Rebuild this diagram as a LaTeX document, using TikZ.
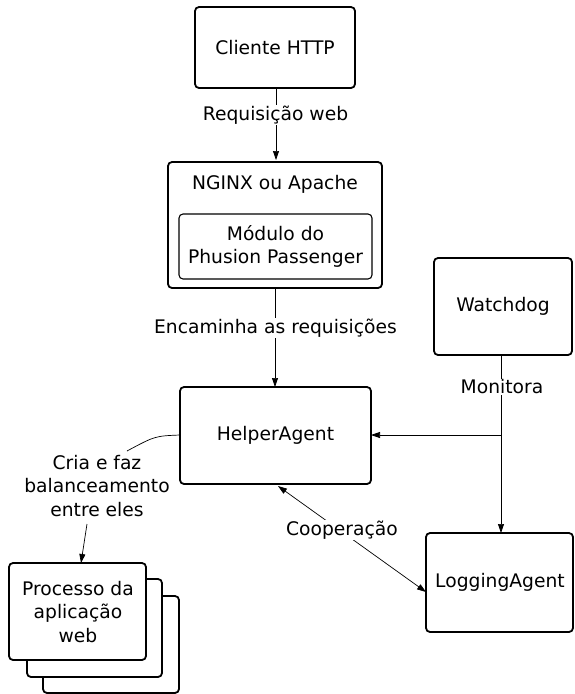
\documentclass[tikz,border=0pt]{standalone}
\usepackage{fontspec}
\setmainfont{DejaVu Sans}
\usetikzlibrary{arrows.meta}
\begin{document}
\begin{tikzpicture}[x=1pt,y=-1pt,
  font=\fontsize{18.7}{23.5}\selectfont,
  box/.style={draw,line width=1.8pt,rounded corners=4pt,fill=white},
  inbox/.style={draw,line width=1.1pt,rounded corners=4pt},
  conn/.style={line width=0.7pt,-{Triangle[length=9pt,width=6pt]}},
  lbl/.style={fill=white,inner sep=1pt,align=center}]
\useasboundingbox (0,0) rectangle (575,694);
% boxes
\draw[box] (195,7) rectangle (355,88);
\node (cli) at (275,47.5) {Cliente HTTP};
\coordinate (cliS) at (276,88);
\draw[box] (168,162) rectangle (382,288);
\node (ngx) at (275,184) {NGINX ou Apache};
\draw[inbox] (179,214) rectangle (372,279);
\node[align=center] (mod) at (275.5,246.5) {Módulo do\\Phusion Passenger};
\coordinate (ngxN) at (276,162);
\coordinate (ngxS) at (275,288);
\draw[box] (180,387) rectangle (371,484);
\node (help) at (275.5,435.5) {HelperAgent};
\coordinate (helpN) at (275,387);
\coordinate (helpE) at (371,435);
\coordinate (helpW) at (180,435);
\coordinate (helpSE) at (278,486);
\draw[box] (434,258) rectangle (572,355);
\node (wd) at (503,306) {Watchdog};
\coordinate (wdS) at (501,355);
\draw[box] (426,533) rectangle (573,632);
\node (log) at (500,582) {LoggingAgent};
\coordinate (logN) at (501,533);
\coordinate (logW) at (426,592);
% process stack
\draw[box] (43,596) rectangle (179,693);
\draw[box] (27,579) rectangle (162,677);
\draw[box] (9,563) rectangle (146,660);
\node[align=center] (proc) at (78,612) {Processo da\\aplicação\\web};
\coordinate (procN) at (81,563);
% connectors
\draw[conn] (cliS) -- (276,160);
\node[lbl] (req) at (275.5,115) {Requisição web};
\draw[conn] (ngxS) -- (helpN);
\node[lbl] (enc) at (275.5,328) {Encaminha as requisições};
\coordinate (br) at (501,435);
\draw[conn] (wdS) -- (logN);
\draw[conn] (br) -- (helpE);
\node[lbl] (mon) at (502,387) {Monitora};
\draw[line width=0.7pt,{Triangle[length=9pt,width=6pt]}-{Triangle[length=9pt,width=6pt]}] (helpSE) -- (logW);
\node[lbl] (coop) at (342,530) {Cooperação};
\node[align=center] (cria) at (97,486) {Cria e faz\\balanceamento\\entre eles};
\coordinate (criaN) at (127,451);
\draw[line width=0.7pt] (helpW) .. controls (155,436) .. (criaN);
\coordinate (criaS) at (87,524);
\draw[conn] (criaS) -- (procN);
\end{tikzpicture}
\end{document}
